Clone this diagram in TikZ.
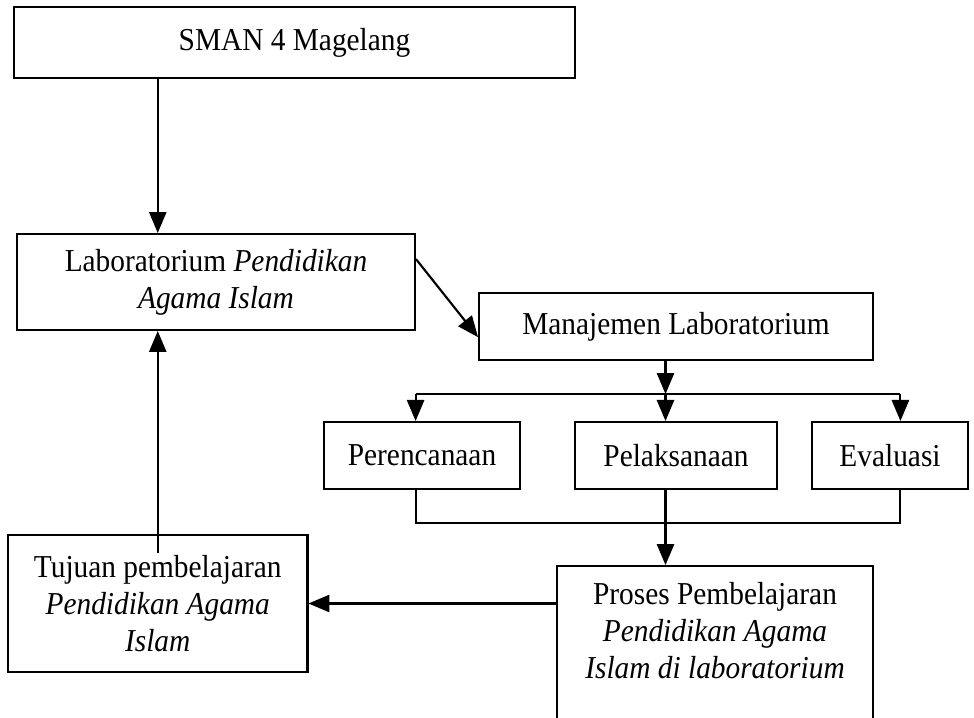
\documentclass[tikz,border=0pt]{standalone}
\usepackage{fontspec}
\setmainfont[FakeStretch=0.92]{Liberation Serif}
\usetikzlibrary{positioning,arrows}

\begin{document}
\begin{tikzpicture}[x=0.376pt,y=-0.376pt,>=triangle 45,line width=0.8pt,
	box/.style={draw,rectangle,align=center,inner sep=2pt,font=\fontsize{12}{14}\selectfont}]
	\useasboundingbox (0,0) rectangle (974,718);
	\node[box,minimum width=210.9pt,minimum height=26.7pt] (sman) at (294.5,42.5) {SMAN 4 Magelang};
	\node[box,minimum width=149.6pt,minimum height=36.1pt] (lab) at (216,282) {Laboratorium \textit{Pendidikan}\\\textit{Agama Islam}};
	\node[box,minimum width=148.1pt,minimum height=25.2pt] (manajemen) at (676,326.5) {Manajemen Laboratorium};
	\node[box,minimum width=73.7pt,minimum height=25.2pt] (perencanaan) at (422,455.5) {Perencanaan};
	\node[box,minimum width=76pt,minimum height=25.2pt] (pelaksanaan) at (676,455.5) {Pelaksanaan};
	\node[box,minimum width=58.7pt,minimum height=25.2pt] (evaluasi) at (890,455.5) {Evaluasi};
	\node[box,anchor=north,minimum width=118.8pt,inner ysep=6pt,text depth=30pt] (proses) at (715,565) {Proses Pembelajaran\\\textit{Pendidikan Agama}\\\textit{Islam di laboratorium}};
	\node[box,minimum width=112.6pt,minimum height=51.5pt] (tujuan) at (157.75,603.5) {Tujuan pembelajaran\\\textit{Pendidikan Agama}\\\textit{Islam}};
	%
	\coordinate (fork) at (665.5,394);
	\coordinate (kiri) at (415.6,394);
	\coordinate (kanan) at (900.4,394);
	\coordinate (gabung) at (665.5,523);
	%
	\draw[->] (sman.south -| tujuan.north) -- (lab.north -| tujuan.north);
	\draw[->] ([yshift=8.6pt]lab.east) -- ([yshift=-4pt]manajemen.west);
	\draw[->] (manajemen.south -| fork) -- (fork);
	\draw (kiri) -- (kanan);
	\draw[->] (kiri) -- (kiri |- perencanaan.north);
	\draw[->] (fork) -- (fork |- pelaksanaan.north);
	\draw[->] (kanan) -- (kanan |- evaluasi.north);
	\draw (kiri |- perencanaan.south) -- (kiri |- gabung) -- (kanan |- gabung) -- (kanan |- evaluasi.south);
	\draw[->] (fork |- pelaksanaan.south) -- (fork |- proses.north);
	\draw[->] (proses.west |- tujuan.east) -- (tujuan.east);
	\draw[->] ([yshift=-7pt]tujuan.north) -- (lab.south -| tujuan.north);
\end{tikzpicture}
\end{document}
